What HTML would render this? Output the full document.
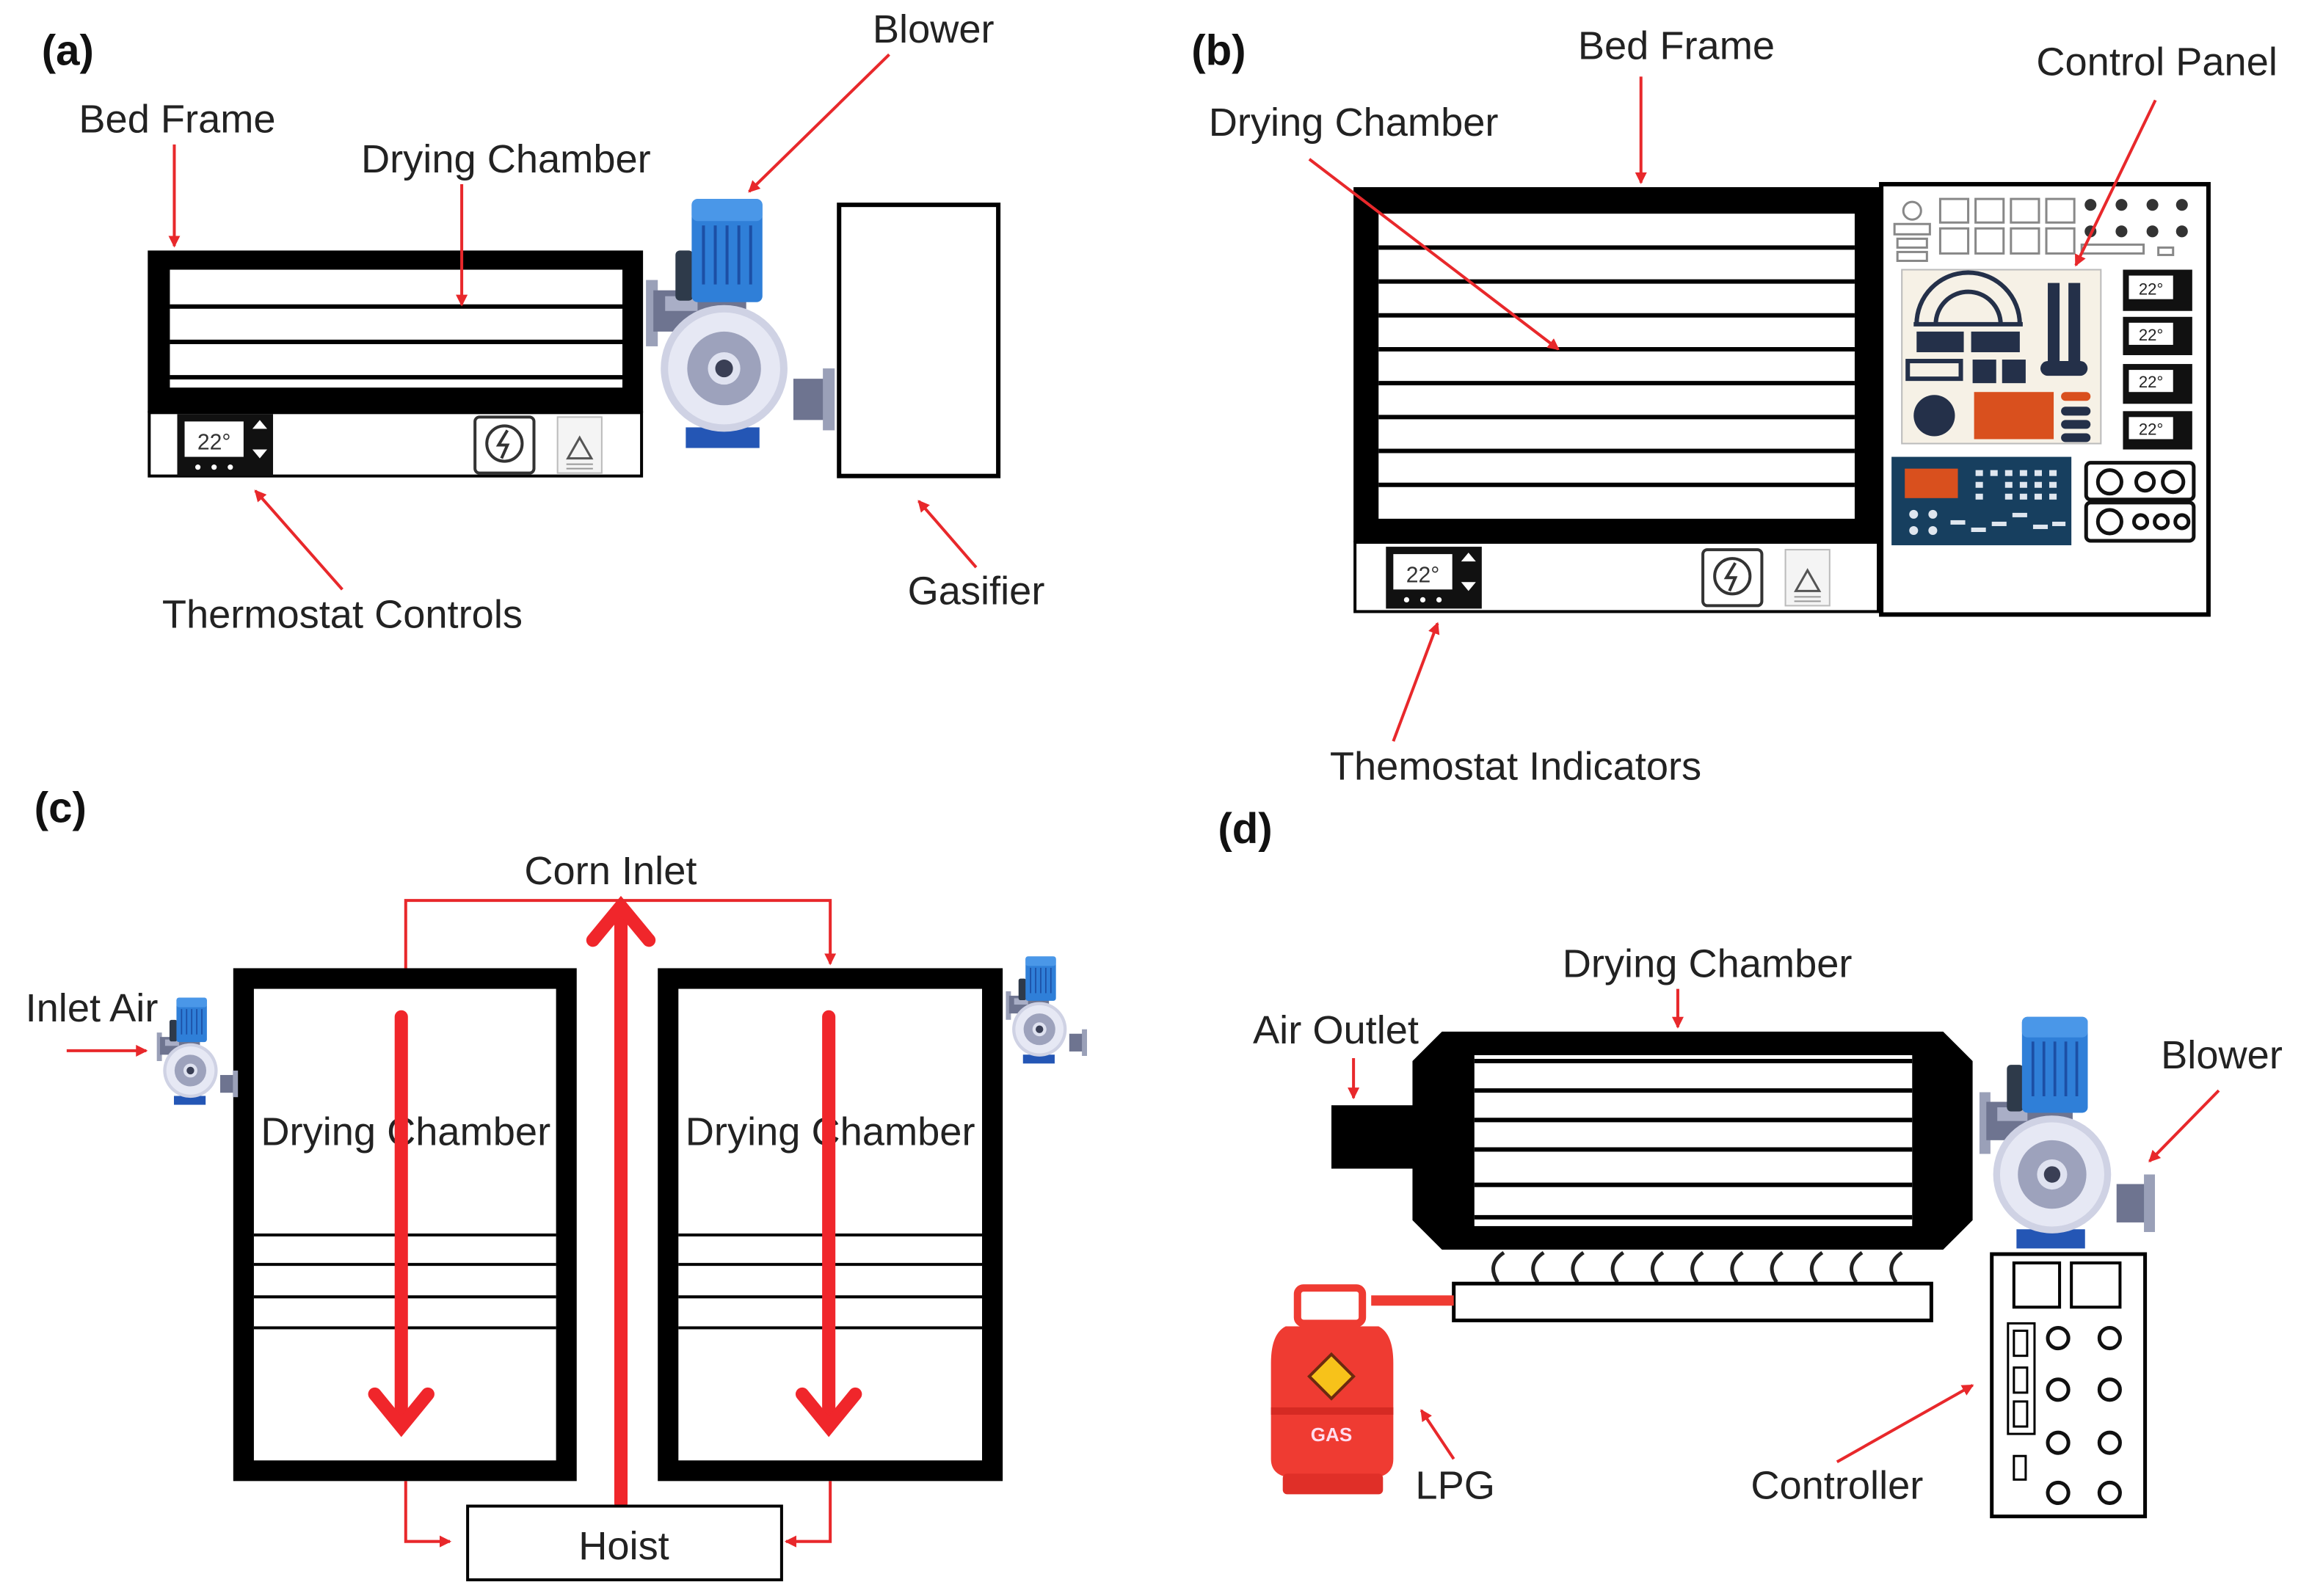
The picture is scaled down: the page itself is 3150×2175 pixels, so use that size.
<!DOCTYPE html>
<html><head><meta charset="utf-8"><style>
html,body{margin:0;padding:0;background:#fff}
svg{display:block}
text{font-family:"Liberation Sans",sans-serif;fill:#222}
</style></head><body>
<svg width="3150" height="2175" viewBox="0 0 1568 1083" xmlns="http://www.w3.org/2000/svg">
<defs>
<marker id="ah" markerWidth="8" markerHeight="8" refX="7" refY="4" orient="auto" markerUnits="userSpaceOnUse"><path d="M0,0 L8,4 L0,8 Z" fill="#e8282b"/></marker>
<g id="blower">
 <rect x="5" y="55" width="8" height="45" fill="#9aa0b8"/>
 <rect x="10" y="62" width="50" height="28" fill="#6e7490"/>
 <rect x="18" y="66" width="40" height="10" fill="#a9aec6"/>
 <rect x="105" y="122" width="22" height="28" fill="#6e7490"/>
 <rect x="125" y="115" width="8" height="42" fill="#9aa0b8"/>
 <rect x="32" y="155" width="50" height="14" fill="#2456b5"/>
 <rect x="40" y="68" width="33" height="12" fill="#6e7490"/>
 <circle cx="58" cy="115" r="43" fill="#cfd2e4"/>
 <circle cx="58" cy="115" r="38" fill="#e6e8f4"/>
 <circle cx="58" cy="115" r="25" fill="#9da2bc"/>
 <circle cx="58" cy="115" r="11" fill="#dfe2f0"/>
 <circle cx="58" cy="115" r="6" fill="#3a3f55"/>
 <rect x="25" y="35" width="12" height="34" rx="3" fill="#2e3a4a"/>
 <rect x="36" y="0" width="48" height="70" rx="4" fill="#2f7fd8"/>
 <rect x="36" y="0" width="48" height="15" rx="4" fill="#4a97e8"/>
 <g stroke="#1c4fa5" stroke-width="2"><line x1="44" y1="18" x2="44" y2="58"/><line x1="52" y1="18" x2="52" y2="58"/><line x1="60" y1="18" x2="60" y2="58"/><line x1="68" y1="18" x2="68" y2="58"/><line x1="76" y1="18" x2="76" y2="58"/></g>
</g>
<g id="thermo">
 <rect x="0" y="0" width="65" height="42" fill="#111"/>
 <rect x="5" y="5" width="40" height="24" fill="#fff"/>
 <text x="25" y="24" font-size="15" text-anchor="middle" style="fill:#333">22°</text>
 <path d="M51,10 L56,4 L61,10 Z M51,24 L56,30 L61,24 Z" fill="#fff"/>
 <circle cx="14" cy="36" r="1.8" fill="#fff"/><circle cx="25" cy="36" r="1.8" fill="#fff"/><circle cx="36" cy="36" r="1.8" fill="#fff"/>
</g>
<g id="icons">
 <rect x="0" y="2" width="40" height="38" rx="3" fill="#fff" stroke="#333" stroke-width="2"/>
 <circle cx="20" cy="20" r="12" fill="none" stroke="#333" stroke-width="2"/>
 <path d="M22,11 L16,21 L22,21 L18,30" fill="none" stroke="#333" stroke-width="2"/>
 <rect x="56" y="2" width="30" height="38" fill="#f4f4f4" stroke="#bbb"/>
 <path d="M71,16 L79,30 L63,30 Z" fill="none" stroke="#555" stroke-width="1.5"/>
 <g stroke="#999"><line x1="62" y1="34" x2="80" y2="34"/><line x1="62" y1="37" x2="80" y2="37"/></g>
</g>
</defs>

<!-- ========== (a) ========== -->
<text x="28" y="44" font-size="29" font-weight="bold" style="fill:#111">(a)</text>
<rect x="100" y="170" width="336" height="110" fill="#000"/>
<rect x="115" y="183" width="307" height="80" fill="#fff"/>
<g stroke="#000" stroke-width="3"><line x1="115" y1="208" x2="422" y2="208"/><line x1="115" y1="232" x2="422" y2="232"/><line x1="115" y1="256" x2="422" y2="256"/></g>
<rect x="101" y="280" width="334" height="43" fill="#fff" stroke="#000" stroke-width="2"/>
<use href="#thermo" transform="translate(120,281)"/>
<use href="#icons" transform="translate(322,281)"/>
<use href="#blower" transform="translate(433,135)"/>
<rect x="569" y="139" width="108" height="184" fill="#fff" stroke="#000" stroke-width="3"/>
<text x="120" y="90" font-size="27" text-anchor="middle">Bed Frame</text>
<line x1="118" y1="98" x2="118" y2="167" stroke="#e8282b" stroke-width="2" marker-end="url(#ah)"/>
<text x="343" y="117" font-size="27" text-anchor="middle">Drying Chamber</text>
<line x1="313" y1="125" x2="313" y2="207" stroke="#e8282b" stroke-width="2" marker-end="url(#ah)"/>
<text x="633" y="29" font-size="27" text-anchor="middle">Blower</text>
<line x1="603" y1="37" x2="508" y2="130" stroke="#e8282b" stroke-width="2" marker-end="url(#ah)"/>
<text x="232" y="426" font-size="27" text-anchor="middle">Thermostat Controls</text>
<line x1="232" y1="400" x2="173" y2="333" stroke="#e8282b" stroke-width="2" marker-end="url(#ah)"/>
<text x="662" y="410" font-size="27" text-anchor="middle">Gasifier</text>
<line x1="662" y1="385" x2="623" y2="340" stroke="#e8282b" stroke-width="2" marker-end="url(#ah)"/>

<!-- ========== (b) ========== -->
<text x="808" y="44" font-size="29" font-weight="bold" style="fill:#111">(b)</text>
<rect x="918" y="127" width="357" height="241" fill="#000"/>
<rect x="935" y="145" width="323" height="207" fill="#fff"/>
<g stroke="#000" stroke-width="3">
<line x1="935" y1="168" x2="1258" y2="168"/><line x1="935" y1="191" x2="1258" y2="191"/><line x1="935" y1="214" x2="1258" y2="214"/><line x1="935" y1="237" x2="1258" y2="237"/><line x1="935" y1="260" x2="1258" y2="260"/><line x1="935" y1="283" x2="1258" y2="283"/><line x1="935" y1="306" x2="1258" y2="306"/><line x1="935" y1="329" x2="1258" y2="329"/></g>
<rect x="919" y="368" width="355" height="47" fill="#fff" stroke="#000" stroke-width="2"/>
<use href="#thermo" transform="translate(940,371)"/>
<use href="#icons" transform="translate(1155,371)"/>
<rect x="1276" y="125" width="222" height="292" fill="#fff" stroke="#000" stroke-width="3"/>
<g fill="none" stroke="#888" stroke-width="1.5">
<circle cx="1297" cy="143" r="6"/>
<rect x="1285" y="152" width="24" height="7"/><rect x="1287" y="162" width="20" height="6"/><rect x="1287" y="171" width="20" height="6"/>
<rect x="1316" y="135" width="19" height="16"/><rect x="1340" y="135" width="19" height="16"/><rect x="1364" y="135" width="19" height="16"/><rect x="1388" y="135" width="19" height="16"/>
<rect x="1316" y="155" width="19" height="17"/><rect x="1340" y="155" width="19" height="17"/><rect x="1364" y="155" width="19" height="17"/><rect x="1388" y="155" width="19" height="17"/>
<rect x="1412" y="166" width="42" height="6"/><rect x="1464" y="168" width="10" height="5"/>
</g>
<g fill="#333"><circle cx="1418" cy="139" r="4"/><circle cx="1439" cy="139" r="4"/><circle cx="1460" cy="139" r="4"/><circle cx="1480" cy="139" r="4"/>
<circle cx="1418" cy="157" r="4"/><circle cx="1439" cy="157" r="4"/><circle cx="1460" cy="157" r="4"/><circle cx="1480" cy="157" r="4"/></g>
<rect x="1290" y="183" width="135" height="118" fill="#f6f1e6" stroke="#bbb"/>
<path d="M1300,220 A35,35 0 0 1 1370,220" fill="none" stroke="#243049" stroke-width="3"/>
<path d="M1313,220 A22,22 0 0 1 1357,220" fill="none" stroke="#243049" stroke-width="3"/>
<line x1="1298" y1="220" x2="1372" y2="220" stroke="#243049" stroke-width="3"/>
<rect x="1300" y="225" width="32" height="14" fill="#243049"/><rect x="1337" y="225" width="33" height="14" fill="#243049"/>
<rect x="1294" y="245" width="36" height="12" fill="none" stroke="#243049" stroke-width="3"/>
<rect x="1338" y="244" width="16" height="16" fill="#243049"/><rect x="1358" y="244" width="16" height="16" fill="#243049"/>
<rect x="1389" y="192" width="8" height="55" fill="#243049"/><rect x="1403" y="192" width="8" height="55" fill="#243049"/>
<rect x="1384" y="245" width="32" height="10" rx="5" fill="#243049"/>
<circle cx="1312" cy="282" r="14" fill="#243049"/>
<rect x="1339" y="266" width="54" height="32" fill="#d9501e"/>
<rect x="1398" y="266" width="20" height="6" rx="3" fill="#d9501e"/><rect x="1398" y="276" width="20" height="6" rx="3" fill="#243049"/><rect x="1398" y="285" width="20" height="6" rx="3" fill="#243049"/><rect x="1398" y="294" width="20" height="6" rx="3" fill="#243049"/>
<g><rect x="1440" y="183" width="47" height="28" fill="#111"/><rect x="1444" y="187" width="30" height="16" fill="#fff"/><text x="1459" y="200" font-size="11" text-anchor="middle">22°</text>
<rect x="1440" y="215" width="47" height="26" fill="#111"/><rect x="1444" y="219" width="30" height="15" fill="#fff"/><text x="1459" y="231" font-size="11" text-anchor="middle">22°</text>
<rect x="1440" y="247" width="47" height="27" fill="#111"/><rect x="1444" y="251" width="30" height="15" fill="#fff"/><text x="1459" y="263" font-size="11" text-anchor="middle">22°</text>
<rect x="1440" y="279" width="47" height="26" fill="#111"/><rect x="1444" y="283" width="30" height="15" fill="#fff"/><text x="1459" y="295" font-size="11" text-anchor="middle">22°</text></g>
<rect x="1283" y="310" width="122" height="60" fill="#173f5f"/>
<rect x="1292" y="318" width="36" height="20" fill="#d9501e"/>
<g fill="#dfe6ef"><rect x="1340" y="319" width="5" height="4"/><rect x="1350" y="319" width="5" height="4"/><rect x="1360" y="319" width="5" height="4"/><rect x="1370" y="319" width="5" height="4"/><rect x="1380" y="319" width="5" height="4"/><rect x="1390" y="319" width="5" height="4"/>
<rect x="1340" y="327" width="5" height="4"/><rect x="1360" y="327" width="5" height="4"/><rect x="1370" y="327" width="5" height="4"/><rect x="1380" y="327" width="5" height="4"/><rect x="1390" y="327" width="5" height="4"/>
<rect x="1340" y="335" width="5" height="4"/><rect x="1360" y="335" width="5" height="4"/><rect x="1370" y="335" width="5" height="4"/><rect x="1380" y="335" width="5" height="4"/><rect x="1390" y="335" width="5" height="4"/>
<circle cx="1298" cy="349" r="3"/><circle cx="1311" cy="349" r="3"/><circle cx="1298" cy="360" r="3"/><circle cx="1311" cy="360" r="3"/>
<rect x="1323" y="353" width="10" height="3"/><rect x="1337" y="358" width="10" height="3"/><rect x="1351" y="354" width="10" height="3"/><rect x="1365" y="348" width="10" height="3"/><rect x="1379" y="356" width="10" height="3"/><rect x="1392" y="354" width="9" height="3"/></g>
<rect x="1415" y="314" width="73" height="25" rx="3" fill="#fff" stroke="#111" stroke-width="2.5"/>
<rect x="1415" y="341" width="73" height="26" rx="3" fill="#fff" stroke="#111" stroke-width="2.5"/>
<g fill="none" stroke="#111" stroke-width="2.5"><circle cx="1431" cy="327" r="8"/><circle cx="1455" cy="327" r="6"/><circle cx="1474" cy="327" r="7"/><circle cx="1431" cy="354" r="8"/><circle cx="1452" cy="354" r="4.5"/><circle cx="1466" cy="354" r="4.5"/><circle cx="1480" cy="354" r="4.5"/></g>
<text x="1137" y="40" font-size="27" text-anchor="middle">Bed Frame</text>
<line x1="1113" y1="52" x2="1113" y2="124" stroke="#e8282b" stroke-width="2" marker-end="url(#ah)"/>
<text x="1463" y="51" font-size="27" text-anchor="middle">Control Panel</text>
<line x1="1462" y1="68" x2="1408" y2="180" stroke="#e8282b" stroke-width="2" marker-end="url(#ah)"/>
<text x="918" y="92" font-size="27" text-anchor="middle">Drying Chamber</text>
<line x1="888" y1="108" x2="1057" y2="237" stroke="#e8282b" stroke-width="2" marker-end="url(#ah)"/>
<text x="1028" y="529" font-size="27" text-anchor="middle">Themostat Indicators</text>
<line x1="945" y1="503" x2="975" y2="423" stroke="#e8282b" stroke-width="2" marker-end="url(#ah)"/>

<!-- ========== (c) ========== -->
<text x="23" y="558" font-size="29" font-weight="bold" style="fill:#111">(c)</text>
<rect x="165" y="664" width="219" height="334" fill="#fff" stroke="#000" stroke-width="14"/>
<rect x="453" y="664" width="220" height="334" fill="#fff" stroke="#000" stroke-width="14"/>
<g stroke="#000" stroke-width="2">
<line x1="172" y1="838" x2="377" y2="838"/><line x1="172" y1="858" x2="377" y2="858"/><line x1="172" y1="880" x2="377" y2="880"/><line x1="172" y1="901" x2="377" y2="901"/>
<line x1="460" y1="838" x2="666" y2="838"/><line x1="460" y1="858" x2="666" y2="858"/><line x1="460" y1="880" x2="666" y2="880"/><line x1="460" y1="901" x2="666" y2="901"/></g>
<text x="275" y="777" font-size="27" text-anchor="middle">Drying Chamber</text>
<text x="563" y="777" font-size="27" text-anchor="middle">Drying Chamber</text>
<g stroke="#f0262b" stroke-width="9" fill="none" stroke-linecap="round">
<line x1="272" y1="690" x2="272" y2="962"/><path d="M254,946 L272,968 L290,946"/>
<line x1="562" y1="690" x2="562" y2="962"/><path d="M544,946 L562,968 L580,946"/>
<line x1="421" y1="1020" x2="421" y2="620"/><path d="M402,638 L421,615 L440,638"/>
</g>
<g stroke="#e8282b" stroke-width="2" fill="none">
<path d="M275,657 L275,611 L563,611 L563,654" marker-end="url(#ah)"/>
<path d="M275,1005 L275,1046 L305,1046" marker-end="url(#ah)"/>
<path d="M563,1005 L563,1046 L533,1046" marker-end="url(#ah)"/>
</g>
<rect x="317" y="1022" width="213" height="50" fill="#fff" stroke="#000" stroke-width="2"/>
<text x="423" y="1058" font-size="27" text-anchor="middle">Hoist</text>
<rect x="344" y="576" width="140" height="30" fill="#fff"/>
<text x="414" y="600" font-size="27" text-anchor="middle">Corn Inlet</text>
<text x="62" y="693" font-size="27" text-anchor="middle">Inlet Air</text>
<line x1="45" y1="713" x2="99" y2="713" stroke="#e8282b" stroke-width="2" marker-end="url(#ah)"/>
<use href="#blower" transform="translate(104,677) scale(0.43)"/>
<use href="#blower" transform="translate(680,649) scale(0.43)"/>

<!-- ========== (d) ========== -->
<text x="826" y="572" font-size="29" font-weight="bold" style="fill:#111">(d)</text>
<rect x="903" y="750" width="60" height="43" fill="#000"/>
<path d="M978,700 L1318,700 L1338,720 L1338,828 L1318,848 L978,848 L958,828 L958,720 Z" fill="#000"/>
<rect x="1000" y="716" width="297" height="116" fill="#fff"/>
<g stroke="#000" stroke-width="3"><line x1="1000" y1="720" x2="1297" y2="720"/><line x1="1000" y1="740" x2="1297" y2="740"/><line x1="1000" y1="760" x2="1297" y2="760"/><line x1="1000" y1="780" x2="1297" y2="780"/><line x1="1000" y1="804" x2="1297" y2="804"/><line x1="1000" y1="826" x2="1297" y2="826"/></g>
<g fill="none" stroke="#222" stroke-width="2.5">
<path d="M1020,850 q-12,8 -4,20"/><path d="M1047,850 q-12,8 -4,20"/><path d="M1074,850 q-12,8 -4,20"/><path d="M1101,850 q-12,8 -4,20"/><path d="M1128,850 q-12,8 -4,20"/><path d="M1155,850 q-12,8 -4,20"/><path d="M1182,850 q-12,8 -4,20"/><path d="M1209,850 q-12,8 -4,20"/><path d="M1236,850 q-12,8 -4,20"/><path d="M1263,850 q-12,8 -4,20"/><path d="M1290,850 q-12,8 -4,20"/>
</g>
<rect x="986" y="871" width="324" height="25" fill="#fff" stroke="#000" stroke-width="2.5"/>
<rect x="930" y="879" width="56" height="7" fill="#ef3b32"/>
<rect x="880" y="874" width="44" height="24" rx="4" fill="none" stroke="#ef3b32" stroke-width="5"/>
<path d="M872,900 Q862,905 862,925 L862,990 Q862,1003 880,1003 L928,1003 Q945,1003 945,990 L945,925 Q945,905 935,900 Z" fill="#ef3b32"/>
<rect x="870" y="1000" width="68" height="14" rx="3" fill="#e02f28"/>
<rect x="862" y="955" width="83" height="5" fill="#d52a23"/>
<path d="M903,919 L918,934 L903,949 L888,934 Z" fill="#f7c21a" stroke="#6b2a10" stroke-width="2"/>
<text x="903" y="978" font-size="13" font-weight="bold" text-anchor="middle" style="fill:#fde">GAS</text>
<use href="#blower" transform="translate(1338,690) scale(0.93)"/>
<rect x="1351" y="851" width="104" height="178" fill="#fff" stroke="#000" stroke-width="2.5"/>
<rect x="1366" y="857" width="31" height="30" fill="#fff" stroke="#000" stroke-width="2"/>
<rect x="1405" y="857" width="33" height="30" fill="#fff" stroke="#000" stroke-width="2"/>
<rect x="1362" y="898" width="18" height="75" fill="none" stroke="#000" stroke-width="1.5"/>
<g fill="none" stroke="#000" stroke-width="1.5"><rect x="1366" y="903" width="9" height="17"/><rect x="1366" y="928" width="9" height="17"/><rect x="1366" y="951" width="9" height="17"/><rect x="1366" y="988" width="8" height="16"/></g>
<g fill="none" stroke="#111" stroke-width="2.5">
<circle cx="1396" cy="908" r="7"/><circle cx="1431" cy="908" r="7"/><circle cx="1396" cy="943" r="7"/><circle cx="1431" cy="943" r="7"/>
<circle cx="1396" cy="979" r="7"/><circle cx="1431" cy="979" r="7"/><circle cx="1396" cy="1013" r="7"/><circle cx="1431" cy="1013" r="7"/></g>
<text x="1158" y="663" font-size="27" text-anchor="middle">Drying Chamber</text>
<line x1="1138" y1="671" x2="1138" y2="697" stroke="#e8282b" stroke-width="2" marker-end="url(#ah)"/>
<text x="906" y="708" font-size="27" text-anchor="middle">Air Outlet</text>
<line x1="918" y1="718" x2="918" y2="745" stroke="#e8282b" stroke-width="2" marker-end="url(#ah)"/>
<text x="1507" y="725" font-size="27" text-anchor="middle">Blower</text>
<line x1="1505" y1="740" x2="1458" y2="788" stroke="#e8282b" stroke-width="2" marker-end="url(#ah)"/>
<text x="987" y="1017" font-size="27" text-anchor="middle">LPG</text>
<line x1="986" y1="990" x2="964" y2="957" stroke="#e8282b" stroke-width="2" marker-end="url(#ah)"/>
<text x="1246" y="1017" font-size="27" text-anchor="middle">Controller</text>
<line x1="1246" y1="992" x2="1338" y2="940" stroke="#e8282b" stroke-width="2" marker-end="url(#ah)"/>
</svg>
</body></html>
